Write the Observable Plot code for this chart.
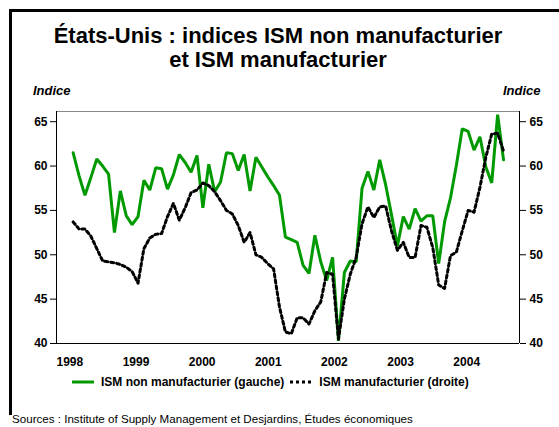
<!DOCTYPE html>
<html>
<head>
<meta charset="utf-8">
<script src="https://cdn.jsdelivr.net/npm/d3@7"></script>
<script src="https://cdn.jsdelivr.net/npm/@observablehq/plot@0.6"></script>
<style>
  html, body { margin: 0; padding: 0; background: #fff; }
  body { font-family: "Liberation Sans", Arial, sans-serif; }
  #wrap { position: relative; width: 559px; height: 427px; overflow: hidden; background: #fff; }
  #frame { position: absolute; left: 9px; top: 9px; width: 620px; height: 403px;
           border-left: 3px solid #000; border-top: 3px solid #000; }
  .title { position: absolute; left: 0; width: 556px; text-align: center;
           font-weight: bold; font-size: 22px; line-height: 26px; color: #000; white-space: nowrap; }
  .unit { position: absolute; font-weight: bold; font-style: italic; font-size: 13px; line-height: 13px; color: #000; }
  #chart { position: absolute; left: 0; top: 100px; }
  #chart svg text { font-weight: bold; }
  #legend { position: absolute; top: 375px; left: 72px; font-weight: bold; font-size: 12px;
            color: #000; white-space: nowrap; display: flex; align-items: center; }
  #legend svg { display: block; }
  #src { position: absolute; left: 12px; top: 412px; font-size: 11.6px; color: #000; white-space: nowrap; }
</style>
</head>
<body>
<div id="wrap">
  <div id="frame"></div>
  <div class="title" style="top:23px">États-Unis : indices ISM non manufacturier</div>
  <div class="title" style="top:47px">et ISM manufacturier</div>
  <div class="unit" style="left:33px; top:84px">Indice</div>
  <div class="unit" style="left:503px; top:84px">Indice</div>
  <div id="chart"></div>
  <div id="legend"></div>
  <div id="src">Sources : Institute of Supply Management et Desjardins, Études économiques</div>
</div>
<script>
// Monthly data, January 1998 to February 2004
const startMonth = "1998-01";
const nonManufacturier = [
  61.5, 58.9, 56.7, 58.7, 60.8, 60.0, 59.1, 52.5, 57.2, 54.4, 53.4, 54.3,
  58.4, 57.3, 59.8, 59.7, 57.4, 59.0, 61.3, 60.4, 59.3, 61.2, 55.3, 60.2,
  57.1, 58.2, 61.5, 61.4, 59.5, 61.3, 57.2, 61.0, 59.9, 58.8, 57.8, 56.7,
  52.0, 51.7, 51.4, 48.8, 47.9, 52.2, 49.2, 47.1, 49.7, 40.3, 48.0, 49.3,
  49.2, 57.5, 59.4, 57.3, 60.7, 57.9, 54.5, 51.0, 54.3, 52.9, 55.2, 53.8,
  54.4, 54.4, 49.0, 53.7, 56.4, 60.1, 64.2, 63.9, 61.8, 63.3, 59.9, 58.1,
  65.8, 60.7
];
const manufacturier = [
  53.7, 52.9, 52.9, 52.1, 50.7, 49.3, 49.2, 49.1, 48.9, 48.6, 48.1, 46.8,
  50.7, 51.9, 52.3, 52.4, 54.3, 55.8, 53.9, 55.3, 57.0, 57.3, 58.1, 57.8,
  57.1, 56.1, 55.0, 54.6, 53.3, 51.4, 52.5, 50.0, 49.7, 49.0, 48.4, 44.1,
  41.3, 41.1, 42.9, 42.9, 42.2, 43.7, 44.7, 48.0, 47.8, 40.5, 45.0, 47.8,
  49.7, 53.5, 55.4, 54.2, 55.4, 55.5, 52.7, 50.5, 51.4, 49.7, 49.7, 53.3,
  53.1, 50.8, 46.6, 46.2, 49.9, 50.3, 52.7, 55.0, 54.8, 57.6, 61.0, 63.6,
  63.7, 61.7
];
const yearLabels = ["1998", "1999", "2000", "2001", "2002", "2003", "2004"];
const yTicks = [40, 45, 50, 55, 60, 65];
const seriesNames = ["ISM non manufacturier (gauche)", "ISM manufacturier (droite)"];

const green = "#009a00";

const toRows = (arr) => arr.map((v, i) => ({ i, v }));
const rowsNon = toRows(nonManufacturier);
const rowsMan = toRows(manufacturier);

// x: month index since startMonth; the category band spans a bit beyond the data
const xDomain = [-2.83, 75.71];
const yDomain = [40, 66.15];
// year labels sit at the start of seven equal bands across the axis
const yearTicks = yearLabels.map((label, k) => ({
  pos: xDomain[0] + k * (xDomain[1] - xDomain[0]) / yearLabels.length,
  label
}));

const chart = Plot.plot({
  width: 559,
  height: 273,
  marginLeft: 56,
  marginRight: 40,
  marginTop: 11,
  marginBottom: 30,
  style: { fontFamily: "'Liberation Sans', Arial, sans-serif", fontSize: "12px", color: "#000", background: "transparent", overflow: "visible" },
  x: { domain: xDomain, axis: null },
  y: { domain: yDomain, axis: null },
  marks: [
    Plot.ruleY([yDomain[1]], { stroke: "#888", strokeWidth: 1 }),
    Plot.line(rowsNon, { x: "i", y: "v", stroke: green, strokeWidth: 3, strokeLinejoin: "miter" }),
    Plot.line(rowsMan, { x: "i", y: "v", stroke: "#000", strokeWidth: 3, strokeDasharray: "3,3" }),
    Plot.ruleY([yDomain[0]], { stroke: "#000", strokeWidth: 1 }),
    Plot.ruleX(xDomain, { stroke: "#000", strokeWidth: 1 }),
    Plot.axisY({ anchor: "left", ticks: yTicks, tickSize: 6, tickPadding: 3, label: null,
                 fontWeight: "bold", fontSize: 12, stroke: "#000" }),
    Plot.axisY({ anchor: "right", ticks: yTicks, tickSize: 6, tickPadding: 4, label: null,
                 fontWeight: "bold", fontSize: 12, stroke: "#000" }),
    Plot.text(yearTicks, { x: "pos", y: () => yDomain[0], text: "label", textAnchor: "start",
                           dy: 19, fontWeight: "bold", fontSize: 12, fill: "#000" })
  ]
});
document.getElementById("chart").appendChild(chart);

// Legend
const legend = document.getElementById("legend");
function addItem(name, dashed, gapBefore) {
  const ns = "http://www.w3.org/2000/svg";
  const s = document.createElementNS(ns, "svg");
  s.setAttribute("width", 22); s.setAttribute("height", 10);
  s.style.marginLeft = gapBefore + "px";
  s.style.marginRight = "7px";
  const l = document.createElementNS(ns, "line");
  l.setAttribute("x1", 0); l.setAttribute("x2", 22);
  l.setAttribute("y1", 5); l.setAttribute("y2", 5);
  l.setAttribute("stroke", dashed ? "#000" : green);
  l.setAttribute("stroke-width", 3);
  if (dashed) l.setAttribute("stroke-dasharray", "3,3");
  s.appendChild(l);
  legend.appendChild(s);
  const t = document.createElement("span");
  t.textContent = name;
  legend.appendChild(t);
}
addItem(seriesNames[0], false, 0);
addItem(seriesNames[1], true, 6);
</script>
</body>
</html>
